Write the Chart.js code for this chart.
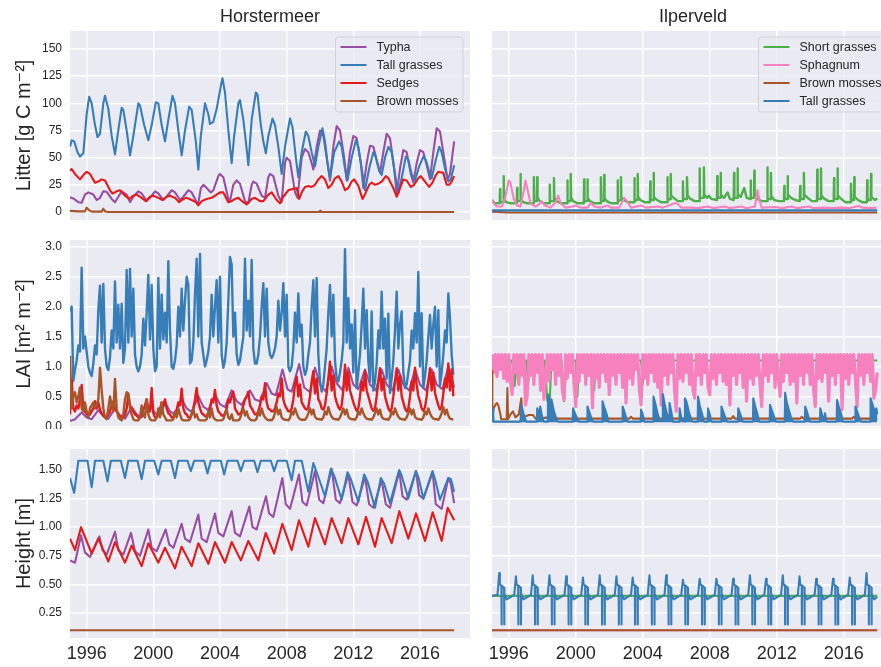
<!DOCTYPE html>
<html><head><meta charset="utf-8">
<script src="https://cdn.jsdelivr.net/npm/chart.js@4.4.1/dist/chart.umd.min.js"></script>
<style>
html,body{margin:0;padding:0;background:#fff;width:881px;height:667px;overflow:hidden;}
#wrap{position:relative;width:881px;height:667px;overflow:hidden;background:#fff;}
canvas{position:absolute;}
</style></head><body><div id="wrap">
<canvas id="c11" width="475" height="221" style="left:0;top:0"></canvas>
<canvas id="c12" width="418" height="221" style="left:480px;top:0"></canvas>
<canvas id="c21" width="475" height="199" style="left:0;top:230px"></canvas>
<canvas id="c22" width="418" height="199" style="left:480px;top:230px"></canvas>
<canvas id="c31" width="475" height="227" style="left:0;top:440px"></canvas>
<canvas id="c32" width="418" height="227" style="left:480px;top:440px"></canvas>
</div>
<script>
// ---------- labels / ticks ----------
const siteTitles = ['Horstermeer', 'Ilperveld'];
const rowTitles = ['Litter [g C m\u207B\u00B2]', 'LAI [m\u00B2 m\u207B\u00B2]', 'Height [m]'];
const legendHM = ['Typha', 'Tall grasses', 'Sedges', 'Brown mosses'];
const legendIP = ['Short grasses', 'Sphagnum', 'Brown mosses', 'Tall grasses'];
const xTicks = [1996, 2000, 2004, 2008, 2012, 2016];
const yTicksLitter = [0, 25, 50, 75, 100, 125, 150];
const yTicksLAI = [0.0, 0.5, 1.0, 1.5, 2.0, 2.5, 3.0];
const yTicksHeight = [0.25, 0.50, 0.75, 1.00, 1.25, 1.50];

// ---------- Litter, Horstermeer ([year, value]) ----------
const litterHM_typha = [[1995.0,13.5],[1995.2,12.5],[1995.5,9],[1995.7,8.5],[1995.9,16],[1996.1,18],[1996.4,16],[1996.6,11],[1996.8,13],[1997.0,19],[1997.2,18.5],[1997.5,12],[1997.7,9],[1997.9,14],[1998.1,19],[1998.4,16],[1998.6,9],[1998.8,14],[1999.1,19],[1999.3,17],[1999.6,10],[1999.8,13],[2000.1,19],[2000.3,17],[2000.6,11],[2000.8,14],[2001.1,20],[2001.3,18],[2001.6,11],[2001.8,14],[2002.1,20],[2002.3,18],[2002.6,9],[2002.7,8],[2002.85,22],[2003.0,25],[2003.2,22],[2003.45,18],[2003.6,20],[2003.9,33],[2004.0,35],[2004.2,32],[2004.5,12],[2004.6,10],[2004.8,25],[2005.0,29],[2005.2,26],[2005.5,10],[2005.7,8],[2005.9,25],[2006.0,28],[2006.2,26],[2006.5,15],[2006.7,13],[2006.9,32],[2007.0,35],[2007.2,33],[2007.5,15],[2007.7,9],[2007.9,45],[2008.0,50],[2008.2,47],[2008.5,18],[2008.65,13],[2008.9,50],[2009.1,58],[2009.3,55],[2009.5,45],[2009.6,39],[2009.8,60],[2010.0,75],[2010.2,70],[2010.45,45],[2010.6,29],[2010.8,60],[2011.0,79],[2011.2,75],[2011.45,50],[2011.6,29],[2011.8,55],[2012.0,70],[2012.2,68],[2012.45,45],[2012.6,22],[2012.8,45],[2013.0,61],[2013.2,60],[2013.45,45],[2013.6,36],[2013.8,55],[2014.0,72],[2014.2,68],[2014.45,40],[2014.6,16],[2014.8,40],[2015.0,57],[2015.2,55],[2015.45,35],[2015.6,27],[2015.8,45],[2016.0,57],[2016.2,55],[2016.45,40],[2016.6,30],[2016.8,55],[2017.0,77],[2017.2,74],[2017.45,50],[2017.65,30],[2017.8,35],[2018.05,65]];
const litterHM_tall = [[1995.0,60],[1995.1,66],[1995.25,65],[1995.45,55],[1995.6,51],[1995.8,54],[1996.0,90],[1996.15,106],[1996.3,100],[1996.5,80],[1996.65,69],[1996.8,72],[1997.0,100],[1997.1,107],[1997.3,95],[1997.5,70],[1997.7,53],[1997.85,70],[1998.1,96],[1998.2,94],[1998.4,75],[1998.6,52],[1998.8,70],[1999.1,100],[1999.2,98],[1999.45,80],[1999.7,66],[1999.9,80],[2000.15,101],[2000.3,100],[2000.5,80],[2000.7,65],[2000.9,85],[2001.15,107],[2001.3,100],[2001.5,75],[2001.7,52],[2001.9,75],[2002.15,97],[2002.3,94],[2002.55,65],[2002.7,39],[2002.85,70],[2003.1,100],[2003.3,90],[2003.4,81],[2003.6,83],[2003.8,95],[2004.1,120],[2004.15,123],[2004.3,110],[2004.5,75],[2004.7,45],[2004.85,70],[2005.1,100],[2005.2,103],[2005.4,85],[2005.55,65],[2005.7,43],[2005.9,85],[2006.15,110],[2006.25,108],[2006.45,80],[2006.6,65],[2006.75,54],[2006.9,70],[2007.15,86],[2007.3,80],[2007.5,60],[2007.7,35],[2007.9,60],[2008.2,86],[2008.35,78],[2008.55,50],[2008.7,32],[2008.9,55],[2009.15,74],[2009.3,70],[2009.5,55],[2009.7,42],[2009.9,60],[2010.15,77],[2010.3,65],[2010.45,45],[2010.6,31],[2010.85,55],[2011.15,65],[2011.3,60],[2011.5,40],[2011.65,29],[2011.9,50],[2012.15,66],[2012.3,60],[2012.5,40],[2012.7,20],[2012.95,40],[2013.2,55],[2013.35,50],[2013.55,38],[2013.7,34],[2013.9,50],[2014.1,60],[2014.3,55],[2014.5,35],[2014.7,17],[2014.95,35],[2015.15,51],[2015.3,48],[2015.5,35],[2015.7,29],[2015.95,42],[2016.2,51],[2016.35,48],[2016.55,37],[2016.7,31],[2016.95,48],[2017.15,60],[2017.3,55],[2017.5,40],[2017.7,28],[2017.85,30],[2018.05,43]];
const litterHM_sedges = [[1995.0,38],[1995.1,39.5],[1995.3,35],[1995.6,30],[1995.8,34],[1996.0,37],[1996.2,35],[1996.5,27],[1996.7,28],[1996.9,30],[1997.1,29],[1997.4,20],[1997.55,17],[1997.8,19],[1998.0,20],[1998.3,15],[1998.55,12],[1998.8,15],[1999.0,16],[1999.3,13],[1999.55,10],[1999.8,14],[2000.0,15],[2000.3,13],[2000.55,11],[2000.8,14],[2001.0,15],[2001.3,13],[2001.55,9],[2001.8,12],[2002.0,13],[2002.3,11],[2002.55,9],[2002.7,6],[2002.9,10],[2003.2,12],[2003.5,13],[2003.8,16],[2004.0,18],[2004.2,18],[2004.5,9],[2004.7,10],[2004.9,12],[2005.1,13],[2005.4,9],[2005.6,7],[2005.9,12],[2006.1,13],[2006.4,10],[2006.6,10],[2006.9,16],[2007.1,18],[2007.4,11],[2007.6,8],[2007.8,14],[2008.1,20],[2008.3,21],[2008.6,22],[2008.75,12],[2008.9,18],[2009.1,23],[2009.3,24],[2009.5,23],[2009.7,25],[2009.9,30],[2010.1,33],[2010.3,30],[2010.5,22],[2010.7,25],[2010.9,31],[2011.1,33],[2011.3,28],[2011.5,20],[2011.7,22],[2011.9,28],[2012.05,30],[2012.3,24],[2012.55,12],[2012.75,18],[2012.95,25],[2013.1,27],[2013.3,25],[2013.5,26],[2013.7,28],[2013.95,33],[2014.1,31],[2014.4,22],[2014.6,14],[2014.8,22],[2015.0,30],[2015.2,29],[2015.45,23],[2015.65,25],[2015.9,31],[2016.05,33],[2016.3,28],[2016.55,23],[2016.75,27],[2016.95,34],[2017.1,37],[2017.4,36],[2017.6,25],[2017.75,25],[2017.9,28],[2018.05,33]];
const litterHM_brown = [[1995.0,1],[1995.5,0.5],[1995.9,0.5],[1996.0,4],[1996.15,1.5],[1996.3,0.3],[1996.9,0.3],[1997.0,3],[1997.1,0.5],[1997.3,0],[2009.95,0],[2010.0,1],[2010.05,0],[2018.05,0]];

// ---------- Litter, Ilperveld ----------
const litterIP_short = [[1995.0,11],[1995.15,8],[1995.46,8],[1995.48,21],[1995.5,9],[1995.68,9],[1995.7,33],[1995.72,12],[1995.85,9],
[1996.1,8],[1996.48,8],[1996.5,22],[1996.52,10],[1996.68,10],[1996.7,35],[1996.72,13],[1996.85,9],
[1997.1,8],[1997.48,8],[1997.5,32],[1997.52,10],[1997.68,10],[1997.7,32],[1997.72,13],[1997.85,10],
[1998.1,8],[1998.43,8],[1998.45,25],[1998.47,10],[1998.68,10],[1998.7,31],[1998.72,13],[1998.85,10],
[1999.1,8],[1999.48,8],[1999.5,29],[1999.52,10],[1999.68,10],[1999.7,35],[1999.72,13],[1999.85,10],
[2000.1,8],[2000.48,8],[2000.5,30],[2000.52,10],[2000.68,10],[2000.7,30],[2000.72,13],[2000.85,10],
[2001.1,8],[2001.48,8],[2001.5,32],[2001.52,10],[2001.68,10],[2001.7,34],[2001.72,13],[2001.85,10],
[2002.1,8],[2002.48,8],[2002.5,29],[2002.52,10],[2002.68,11],[2002.7,32],[2002.72,14],[2002.85,11],
[2003.1,9],[2003.48,9],[2003.5,31],[2003.52,11],[2003.68,11],[2003.7,35],[2003.72,14],[2003.85,11],
[2004.1,9],[2004.43,9],[2004.45,28],[2004.47,11],[2004.63,11],[2004.65,36],[2004.67,14],[2004.85,11],
[2005.1,9],[2005.45,9],[2005.47,32],[2005.49,11],[2005.65,12],[2005.67,35],[2005.69,15],[2005.85,13],
[2006.1,10],[2006.38,10],[2006.4,28],[2006.42,12],[2006.62,12],[2006.64,32],[2006.68,15],[2006.85,12],
[2007.1,10],[2007.38,10],[2007.4,40],[2007.42,13],[2007.63,13],[2007.65,41],[2007.67,16],[2007.85,13],[2007.95,15],
[2008.1,12],[2008.43,11],[2008.45,33],[2008.47,13],[2008.63,13],[2008.65,36],[2008.67,16],[2008.85,13],
[2009.07,18],[2009.2,12],[2009.43,11],[2009.45,36],[2009.47,13],[2009.64,13],[2009.66,40],[2009.68,16],[2009.85,14],
[2010.06,22],[2010.2,13],[2010.42,12],[2010.44,29],[2010.46,13],[2010.64,13],[2010.66,38],[2010.68,16],[2010.85,12],
[2011.1,10],[2011.42,10],[2011.44,41],[2011.46,12],[2011.63,12],[2011.65,36],[2011.67,15],[2011.85,11],
[2012.1,10],[2012.43,10],[2012.45,24],[2012.47,12],[2012.63,12],[2012.65,33],[2012.67,16],[2012.85,13],
[2013.1,11],[2013.38,10],[2013.4,24],[2013.42,12],[2013.6,12],[2013.62,36],[2013.64,16],[2013.85,13],
[2014.1,10],[2014.4,10],[2014.42,39],[2014.44,12],[2014.62,12],[2014.64,40],[2014.66,15],[2014.85,12],
[2015.1,10],[2015.4,10],[2015.42,31],[2015.44,12],[2015.61,12],[2015.63,40],[2015.65,15],[2015.85,12],
[2016.1,9],[2016.41,9],[2016.43,26],[2016.45,11],[2016.61,11],[2016.63,32],[2016.65,14],[2016.85,11],
[2017.1,9],[2017.38,9],[2017.4,29],[2017.42,11],[2017.61,11],[2017.63,35],[2017.65,14],[2017.85,11],[2018.0,12.5]];
const litterIP_sphag = [[1995.0,11],[1995.15,7],[1995.3,5],[1995.6,5],[1995.8,14],[1996.0,29],[1996.1,27],[1996.3,12],[1996.5,6],[1996.7,5],[1996.9,20],[1997.0,29],[1997.1,22],[1997.3,8],[1997.6,5],[1997.8,7],[1997.95,10],[1998.15,6],[1998.5,4],[1998.8,9],[1998.95,15],[1999.1,8],[1999.4,4],[1999.8,5],[2000.0,6],[2000.3,4],[2000.7,4],[2000.9,8.5],[2001.1,5],[2001.5,4],[2001.9,6],[2002.1,4],[2002.6,4],[2002.9,13],[2003.05,10],[2003.3,4],[2003.9,6],[2004.2,4],[2004.9,5],[2005.2,4],[2005.9,8],[2006.05,8],[2006.3,4],[2006.9,4],[2007.3,3.5],[2007.9,5],[2008.2,3.5],[2008.9,5],[2009.2,3.5],[2009.9,5],[2010.2,3.5],[2010.7,5],[2010.85,20],[2010.95,12],[2011.1,4],[2011.9,4.5],[2012.3,3.5],[2012.9,5],[2013.2,3.5],[2013.9,5],[2014.2,3.5],[2014.9,4],[2015.3,3.5],[2015.9,4],[2016.3,3.5],[2016.9,5.5],[2017.1,4],[2017.6,3.5],[2017.95,4]];
const litterIP_brown = [[1995.0,0.3],[1996.0,-0.5],[2018.0,-0.5]];
const litterIP_tall = [[1995.0,1.5],[2018.0,1.5]];

// ---------- LAI, Horstermeer (values every 0.1 year from 1995.0) ----------
const laiGridStart = 1995.0;
const laiGridStep = 0.1;
const laiHM_tall = [
1.92,2.0,0.76,0.95,1.1,1.35,1.25,2.65,1.3,1.5,
1.25,1.0,0.9,0.84,1.05,1.35,1.2,1.95,2.35,1.4,
2.38,1.3,1.0,0.94,1.15,1.6,1.3,2.42,1.4,2.03,
1.3,2.05,1.06,1.3,2.61,1.4,2.63,1.5,2.3,1.2,
1.0,0.92,1.0,1.2,1.8,1.35,1.9,2.53,1.45,2.36,
1.3,0.92,1.0,2.48,1.3,2.2,1.45,1.9,1.4,2.76,
1.6,1.0,0.96,1.1,1.35,2.0,1.5,2.3,1.6,2.1,
2.5,2.36,1.05,1.1,1.4,2.2,2.8,1.5,2.88,1.4,
1.2,1.0,1.1,1.25,1.5,2.2,1.5,2.0,2.44,1.4,
2.5,1.2,0.98,1.1,1.4,2.1,2.83,2.7,1.5,1.9,
1.2,1.03,1.1,1.3,1.5,2.8,1.6,2.1,1.5,2.78,
1.3,1.05,1.05,1.2,1.5,2.0,2.39,1.5,2.3,1.4,
1.2,1.14,1.2,1.3,1.5,2.1,1.6,1.9,2.39,1.5,
2.2,1.0,0.92,1.0,1.3,1.9,1.4,2.22,1.5,1.7,
1.0,0.86,0.95,1.2,1.4,2.0,2.44,1.5,2.48,1.2,
0.75,0.58,0.7,1.0,1.3,1.9,2.36,1.5,2.2,1.1,
0.8,0.75,0.9,1.1,1.4,2.96,1.4,2.14,1.3,1.7,
0.9,1.94,0.64,0.9,1.2,1.7,2.3,1.3,1.94,1.1,
0.75,1.92,0.6,0.75,1.05,1.6,1.3,2.25,1.3,1.8,
0.8,1.88,0.56,0.8,1.1,1.6,2.25,1.3,1.7,1.92,
0.9,0.64,0.7,0.9,1.1,1.6,1.3,1.89,1.4,2.58,
1.0,1.89,0.64,0.85,1.1,1.5,1.86,1.3,1.7,2.0,
1.0,1.94,0.68,0.9,1.2,1.6,1.4,2.22,1.8,1.2,
0.86];
const laiHM_sedges = [
0.2,0.78,0.3,0.25,0.35,0.3,0.45,0.69,0.3,0.25,
0.2,0.18,0.2,0.25,0.3,0.42,0.3,0.4,0.28,0.22,
0.18,0.15,0.15,0.2,0.25,0.35,0.42,0.3,0.25,0.2,
0.18,0.15,0.15,0.2,0.3,0.53,0.35,0.3,0.25,0.2,
0.18,0.15,0.15,0.2,0.28,0.35,0.45,0.3,0.25,0.64,
0.22,0.15,0.15,0.2,0.28,0.4,0.35,0.45,0.3,0.22,
0.2,0.15,0.15,0.2,0.28,0.4,0.35,0.63,0.3,0.22,
0.2,0.15,0.15,0.2,0.3,0.45,0.64,0.4,0.3,0.22,
0.2,0.17,0.17,0.22,0.3,0.45,0.4,0.61,0.35,0.25,
0.22,0.18,0.18,0.22,0.3,0.45,0.4,0.5,0.58,0.3,
0.25,0.2,0.2,0.25,0.35,0.45,0.5,0.58,0.35,0.3,
0.25,0.2,0.2,0.25,0.35,0.5,0.45,0.72,0.4,0.3,
0.28,0.25,0.25,0.3,0.4,0.55,0.5,0.8,0.45,0.35,
0.3,0.25,0.25,0.3,0.45,0.7,0.83,0.5,0.7,0.4,
0.35,0.3,0.28,0.32,0.5,0.75,0.92,0.55,0.8,0.45,
0.4,0.3,0.28,0.35,0.55,0.8,1.08,0.6,0.85,0.5,
0.4,0.32,0.28,0.35,0.6,1.03,0.6,0.9,0.6,0.5,
0.4,0.32,0.26,0.3,0.5,0.75,0.6,0.92,0.6,0.5,
0.4,0.3,0.26,0.3,0.5,0.75,0.97,0.6,0.8,0.5,
0.4,0.3,0.25,0.3,0.5,0.75,0.97,0.6,0.85,0.5,
0.4,0.3,0.25,0.3,0.5,0.75,0.6,0.98,0.7,0.5,
0.42,0.3,0.26,0.32,0.5,0.75,0.97,0.6,0.9,0.55,
0.45,0.35,0.28,0.33,0.55,0.8,0.65,1.05,0.6,0.95,
0.5];
const laiHM_brown = [
1.18,0.3,0.5,0.57,0.4,0.5,0.65,0.3,0.25,0.4,
0.25,0.15,0.3,0.35,0.4,0.3,0.35,0.45,0.98,0.6,
0.3,0.15,0.12,0.3,0.5,0.35,0.25,0.79,0.3,0.15,
0.12,0.1,0.2,0.45,0.57,0.55,0.3,0.2,0.12,0.1,
0.1,0.1,0.15,0.35,0.2,0.15,0.45,0.2,0.12,0.1,
0.1,0.1,0.15,0.3,0.15,0.4,0.2,0.15,0.1,0.1,
0.1,0.1,0.12,0.25,0.15,0.3,0.2,0.12,0.1,0.1,
0.1,0.1,0.12,0.2,0.3,0.15,0.2,0.12,0.1,0.1,
0.1,0.1,0.12,0.25,0.15,0.3,0.15,0.12,0.1,0.1,
0.1,0.1,0.12,0.2,0.28,0.15,0.12,0.2,0.1,0.1,
0.1,0.1,0.13,0.22,0.3,0.18,0.25,0.15,0.12,0.1,
0.1,0.1,0.13,0.25,0.18,0.3,0.2,0.15,0.12,0.1,
0.11,0.1,0.14,0.22,0.32,0.2,0.28,0.15,0.12,0.11,
0.11,0.1,0.14,0.25,0.2,0.3,0.22,0.15,0.12,0.11,
0.11,0.11,0.15,0.22,0.3,0.2,0.28,0.16,0.13,0.12,
0.12,0.11,0.15,0.25,0.2,0.32,0.22,0.16,0.13,0.12,
0.12,0.11,0.15,0.22,0.3,0.2,0.28,0.16,0.13,0.12,
0.12,0.11,0.15,0.25,0.2,0.3,0.22,0.16,0.13,0.12,
0.12,0.11,0.15,0.22,0.3,0.2,0.28,0.16,0.13,0.12,
0.12,0.11,0.15,0.25,0.2,0.3,0.22,0.16,0.13,0.12,
0.12,0.11,0.15,0.22,0.3,0.2,0.28,0.16,0.13,0.12,
0.12,0.11,0.15,0.25,0.2,0.3,0.22,0.16,0.13,0.12,
0.12,0.11,0.15,0.22,0.32,0.2,0.28,0.18,0.13,0.12,
0.12];
const laiHM_typha = [[1995.0,0.09],[1995.3,0.12],[1995.7,0.23],[1996.0,0.15],[1996.3,0.12],[1996.7,0.27],[1997.0,0.17],[1997.3,0.13],[1997.7,0.3],[1998.0,0.18],[1998.3,0.13],[1998.7,0.32],[1999.0,0.2],[1999.3,0.15],[1999.8,0.34],[2000.1,0.22],[2000.4,0.17],[2000.7,0.4],[2001.0,0.25],[2001.3,0.2],[2001.7,0.46],[2002.0,0.3],[2002.3,0.24],[2002.7,0.5],[2003.0,0.33],[2003.3,0.27],[2003.7,0.53],[2004.0,0.37],[2004.3,0.32],[2004.7,0.6],[2005.0,0.42],[2005.3,0.36],[2005.8,0.6],[2006.1,0.45],[2006.4,0.42],[2006.8,0.72],[2007.1,0.55],[2007.35,0.52],[2007.75,0.95],[2008.05,0.62],[2008.3,0.58],[2008.75,1.04],[2009.05,0.65],[2009.4,0.57],[2009.7,0.98],[2010.0,0.7],[2010.35,0.58],[2010.7,1.0],[2011.0,0.72],[2011.35,0.6],[2011.7,0.98],[2012.0,0.7],[2012.3,0.62],[2012.7,0.95],[2013.0,0.7],[2013.35,0.6],[2013.7,0.95],[2014.0,0.7],[2014.35,0.6],[2014.7,0.95],[2015.0,0.7],[2015.35,0.6],[2015.7,0.95],[2016.0,0.7],[2016.35,0.6],[2016.7,0.95],[2017.0,0.7],[2017.35,0.62],[2017.7,1.0],[2018.05,0.65]];

// ---------- LAI, Ilperveld ----------
const laiIP_short = [[1995.0,1.1],[1995.15,0.98],[1995.25,1.1],[1996.2,1.1],[1996.35,0.67],[1996.5,1.1],[1996.6,0.92],[1996.75,1.1],[1997.05,1.1],[1997.15,0.7],[1997.3,1.1],[1998.15,1.1],[1998.3,0.42],[1998.45,0.45],[1998.55,1.1],[1999.15,1.1],[1999.3,0.42],[1999.45,1.1],[2000.0,1.1],[2000.1,0.5],[2000.2,1.1],[2001.0,1.1],[2001.1,0.6],[2001.2,1.1],[2003.9,1.1],[2004.0,0.7],[2004.1,1.1],[2009.1,1.1],[2009.2,0.6],[2009.3,1.1],[2013.1,1.1],[2013.2,0.65],[2013.3,1.1],[2018.0,1.1]];
const laiIP_sphag = [
1.2,0.9,1.2,0.83,1.2,0.95,1.2,0.8,1.2,0.75,
1.2,0.75,0.53,1.2,0.9,1.2,0.7,1.2,0.85,1.2,
0.36,0.5,1.2,0.85,1.2,0.7,1.2,0.9,1.2,0.6,
1.2,0.45,0.8,1.2,0.75,1.2,0.95,1.2,0.7,1.2,
0.85,1.2,0.6,0.44,1.2,0.8,1.2,0.9,1.2,0.7,
0.33,1.2,0.75,1.2,0.9,1.2,0.7,1.2,0.85,1.2,
0.31,1.2,0.8,1.2,0.65,1.2,0.9,1.2,0.75,1.2,
0.53,1.2,0.85,1.2,0.7,1.2,0.9,1.2,0.65,1.2,
0.39,1.2,0.8,1.2,0.7,1.2,0.95,1.2,0.6,0.36,
1.2,0.8,1.2,0.7,1.2,0.9,1.2,0.75,1.2,0.65,
1.2,0.36,1.2,0.85,1.2,0.7,1.2,0.9,1.2,0.6,
0.25,1.2,0.8,1.2,0.75,1.2,0.9,1.2,0.7,1.2,
0.6,0.47,1.2,0.85,1.2,0.7,1.2,0.9,1.2,0.65,
0.53,1.2,0.8,1.2,0.7,1.2,0.9,1.2,0.75,1.2,
0.7,1.2,0.36,1.2,0.85,1.2,0.7,1.2,0.9,1.2,
0.65,1.2,0.42,1.2,0.8,1.2,0.7,1.2,0.85,1.2,
0.7,0.33,1.2,0.85,1.2,0.75,1.2,0.9,1.2,0.65,
1.2,0.8,0.5,1.2,0.75,1.2,0.9,1.2,0.7,1.2,
0.75,1.2,0.39,1.2,0.85,1.2,0.7,1.2,0.9,1.2,
0.7,1.2,0.6,0.33,1.2,0.8,1.2,0.75,1.2,0.9,
1.2,0.42,1.2,0.85,1.2,0.7,1.2,0.9,1.2,0.28,
1.2,0.8,1.2,0.7,1.2,0.9,1.2,0.75,0.33,1.2,
0.85,1.2,0.7,1.2,0.9,1.2,0.75,1.2,0.47,0.6,
0.9];
const laiIP_brown = [[1995.0,0.92],[1995.02,0.1],[1995.1,0.3],[1995.2,0.36],[1995.3,0.39],[1995.4,0.33],[1995.5,0.2],[1995.55,0.12],[1995.88,0.12],[1995.92,0.64],[1995.96,0.12],[1996.1,0.2],[1996.25,0.25],[1996.4,0.15],[1996.6,0.2],[1996.75,0.47],[1996.8,0.17],[1997.0,0.17],[1997.2,0.19],[1997.45,0.19],[1997.6,0.13],[1998.5,0.15],[1998.6,0.13],[2003.2,0.13],[2003.3,0.16],[2003.4,0.13],[2004.8,0.13],[2004.9,0.16],[2005.0,0.13],[2009.3,0.13],[2009.4,0.17],[2009.5,0.13],[2013.4,0.13],[2013.5,0.16],[2013.6,0.13],[2016.5,0.13],[2016.6,0.16],[2016.7,0.13],[2018.0,0.13]];
const laiIP_tall = [[1995.0,0.3],[1995.05,0.28],[1995.1,0.08],
[1996.7,0.08],[1996.75,0.36],[1996.85,0.25],[1996.95,0.15],[1997.05,0.08],
[1997.68,0.08],[1997.7,0.3],[1997.8,0.2],[1997.88,0.33],[1998.0,0.15],[1998.1,0.08],
[1998.33,0.08],[1998.35,0.53],[1998.45,0.4],[1998.55,0.45],[1998.7,0.25],[1998.85,0.12],[1998.95,0.08],
[1999.82,0.08],[1999.84,0.3],[1999.95,0.22],[2000.1,0.12],[2000.2,0.08],
[2000.68,0.08],[2000.7,0.33],[2000.8,0.25],[2000.95,0.12],[2001.05,0.08],
[2001.58,0.08],[2001.6,0.42],[2001.7,0.32],[2001.85,0.2],[2001.95,0.08],
[2002.78,0.08],[2002.8,0.33],[2002.9,0.25],[2003.05,0.1],[2003.1,0.08],
[2003.88,0.08],[2003.9,0.28],[2004.0,0.2],[2004.1,0.08],
[2004.62,0.08],[2004.64,0.5],[2004.75,0.38],[2004.9,0.2],[2005.0,0.1],
[2005.18,0.1],[2005.2,0.54],[2005.3,0.38],[2005.45,0.2],[2005.58,0.15],[2005.6,0.39],[2005.7,0.25],[2005.8,0.08],
[2006.18,0.08],[2006.2,0.3],[2006.3,0.15],[2006.5,0.08],[2006.52,0.47],[2006.62,0.4],[2006.75,0.25],[2006.9,0.1],[2007.0,0.08],
[2007.28,0.08],[2007.3,0.5],[2007.4,0.35],[2007.55,0.2],[2007.65,0.08],
[2007.88,0.08],[2007.9,0.3],[2008.0,0.2],[2008.1,0.08],
[2008.68,0.08],[2008.7,0.33],[2008.8,0.25],[2008.95,0.12],[2009.05,0.08],
[2009.68,0.08],[2009.7,0.3],[2009.8,0.22],[2009.95,0.1],[2010.0,0.08],
[2010.58,0.08],[2010.6,0.47],[2010.7,0.35],[2010.85,0.2],[2010.95,0.08],
[2011.58,0.08],[2011.6,0.36],[2011.7,0.27],[2011.85,0.15],[2011.95,0.08],
[2012.48,0.08],[2012.5,0.56],[2012.6,0.4],[2012.75,0.25],[2012.9,0.1],[2013.0,0.08],
[2013.68,0.08],[2013.7,0.33],[2013.8,0.25],[2013.95,0.1],[2014.0,0.08],
[2014.58,0.08],[2014.6,0.3],[2014.7,0.2],[2014.85,0.1],[2014.88,0.22],[2014.95,0.1],[2015.0,0.08],
[2015.58,0.08],[2015.6,0.44],[2015.7,0.33],[2015.85,0.2],[2015.95,0.08],
[2016.68,0.08],[2016.7,0.33],[2016.8,0.25],[2016.95,0.12],[2017.05,0.08],
[2017.58,0.08],[2017.6,0.47],[2017.7,0.38],[2017.85,0.25],[2017.95,0.3],[2018.0,0.2]];

// ---------- Height, Horstermeer ----------
const heightHM_typha = [[1995.0,0.71],[1995.3,0.69],[1995.66,0.93],[1995.9,0.78],[1996.2,0.74],[1996.76,0.92],[1996.95,0.8],[1997.2,0.76],[1997.7,0.96],[1997.9,0.8],[1998.2,0.76],[1998.66,0.95],[1998.9,0.79],[1999.2,0.75],[1999.7,0.98],[1999.9,0.82],[2000.2,0.79],[2000.74,0.98],[2000.95,0.85],[2001.2,0.82],[2001.7,1.03],[2001.9,0.9],[2002.2,0.87],[2002.7,1.11],[2002.9,0.9],[2003.2,0.87],[2003.7,1.12],[2003.9,0.95],[2004.2,0.92],[2004.7,1.14],[2004.9,0.95],[2005.2,0.92],[2005.76,1.18],[2005.95,1.0],[2006.2,0.98],[2006.76,1.27],[2006.95,1.12],[2007.2,1.09],[2007.74,1.43],[2007.95,1.2],[2008.2,1.16],[2008.74,1.46],[2008.95,1.22],[2009.2,1.19],[2009.7,1.49],[2009.95,1.24],[2010.2,1.21],[2010.7,1.51],[2010.95,1.24],[2011.2,1.21],[2011.7,1.46],[2011.95,1.22],[2012.2,1.19],[2012.7,1.44],[2012.95,1.2],[2013.2,1.17],[2013.7,1.41],[2013.95,1.2],[2014.2,1.17],[2014.76,1.49],[2014.95,1.27],[2015.2,1.24],[2015.76,1.49],[2015.95,1.28],[2016.2,1.25],[2016.76,1.48],[2016.95,1.2],[2017.3,1.16],[2017.7,1.43],[2017.85,1.38],[2018.05,1.21]];
const heightHM_tall = [[1995.0,1.43],[1995.25,1.30],[1995.5,1.58],[1996.05,1.58],[1996.3,1.35],[1996.5,1.58],[1997.0,1.58],[1997.25,1.40],[1997.45,1.58],[1998.05,1.58],[1998.3,1.43],[1998.5,1.58],[1999.05,1.58],[1999.3,1.42],[1999.5,1.58],[2000.05,1.58],[2000.3,1.46],[2000.5,1.58],[2001.05,1.58],[2001.3,1.43],[2001.5,1.58],[2002.05,1.58],[2002.25,1.49],[2002.45,1.58],[2003.05,1.58],[2003.25,1.47],[2003.45,1.58],[2004.05,1.58],[2004.25,1.46],[2004.45,1.58],[2005.05,1.58],[2005.25,1.49],[2005.45,1.58],[2006.05,1.58],[2006.25,1.48],[2006.45,1.58],[2007.05,1.58],[2007.25,1.49],[2007.45,1.58],[2008.0,1.58],[2008.3,1.41],[2008.5,1.58],[2008.9,1.58],[2009.3,1.31],[2009.6,1.56],[2009.8,1.48],[2010.3,1.27],[2010.65,1.51],[2010.85,1.45],[2011.3,1.24],[2011.65,1.48],[2011.85,1.42],[2012.3,1.22],[2012.65,1.46],[2012.85,1.4],[2013.3,1.17],[2013.65,1.43],[2013.85,1.38],[2014.2,1.21],[2014.75,1.5],[2014.9,1.45],[2015.3,1.25],[2015.75,1.49],[2015.9,1.44],[2016.2,1.25],[2016.75,1.49],[2016.9,1.42],[2017.2,1.24],[2017.7,1.43],[2017.85,1.42],[2018.05,1.31]];
const heightHM_sedges = [[1995.0,0.9],[1995.3,0.8],[1995.66,1.0],[1996.3,0.77],[1996.7,0.9],[1997.3,0.7],[1997.7,0.87],[1998.3,0.69],[1998.7,0.84],[1999.3,0.66],[1999.7,0.86],[2000.3,0.69],[2000.7,0.82],[2001.3,0.64],[2001.7,0.83],[2002.3,0.66],[2002.7,0.86],[2003.3,0.68],[2003.7,0.87],[2004.3,0.69],[2004.7,0.87],[2005.25,0.71],[2005.7,0.88],[2006.3,0.71],[2006.74,0.95],[2007.25,0.77],[2007.74,1.03],[2008.3,0.8],[2008.74,1.06],[2009.3,0.83],[2009.7,1.08],[2010.3,0.85],[2010.7,1.08],[2011.3,0.86],[2011.7,1.08],[2012.3,0.85],[2012.76,1.09],[2013.3,0.83],[2013.7,1.08],[2014.3,0.86],[2014.76,1.14],[2015.3,0.9],[2015.76,1.12],[2016.3,0.88],[2016.76,1.13],[2017.3,0.88],[2017.66,1.17],[2018.05,1.06]];
const heightHM_brown = [[1995.0,0.1],[2018.05,0.1]];

// ---------- Height, Ilperveld ----------
const heightIP_short = [[1995.0,0.4],[2018.0,0.4]];
const heightIP_sphag = [[1995.0,0.1],[2018.0,0.1]];
const heightIP_brown = [[1995.0,0.1],[2018.0,0.1]];
const heightIP_tall = [[1995.0,0.40],[1995.33,0.41],[1995.43,0.60],[1995.47,0.50],[1995.56,0.49],[1995.57,0.15],[1995.58,0.49],[1995.72,0.47],[1995.73,0.15],[1995.74,0.42],[1995.88,0.37],
[1996.33,0.41],[1996.43,0.57],[1996.47,0.50],[1996.56,0.49],[1996.57,0.15],[1996.58,0.49],[1996.72,0.47],[1996.73,0.15],[1996.74,0.42],[1996.88,0.37],
[1997.33,0.41],[1997.43,0.58],[1997.47,0.50],[1997.56,0.49],[1997.57,0.15],[1997.58,0.49],[1997.72,0.47],[1997.73,0.15],[1997.74,0.42],[1997.88,0.37],
[1998.33,0.41],[1998.43,0.58],[1998.47,0.50],[1998.56,0.49],[1998.57,0.15],[1998.58,0.49],[1998.72,0.47],[1998.73,0.15],[1998.74,0.42],[1998.88,0.37],
[1999.33,0.41],[1999.43,0.57],[1999.47,0.50],[1999.56,0.49],[1999.57,0.15],[1999.58,0.49],[1999.72,0.47],[1999.73,0.15],[1999.74,0.42],[1999.88,0.37],
[2000.33,0.41],[2000.43,0.56],[2000.47,0.50],[2000.56,0.49],[2000.57,0.15],[2000.58,0.49],[2000.72,0.47],[2000.73,0.15],[2000.74,0.42],[2000.88,0.37],
[2001.33,0.41],[2001.43,0.58],[2001.47,0.50],[2001.56,0.49],[2001.57,0.15],[2001.58,0.49],[2001.72,0.47],[2001.73,0.15],[2001.74,0.42],[2001.88,0.37],
[2002.33,0.41],[2002.43,0.57],[2002.47,0.50],[2002.56,0.49],[2002.57,0.15],[2002.58,0.49],[2002.72,0.47],[2002.73,0.15],[2002.74,0.42],[2002.88,0.37],
[2003.30,0.41],[2003.40,0.56],[2003.44,0.50],[2003.53,0.49],[2003.54,0.15],[2003.55,0.49],[2003.69,0.47],[2003.70,0.15],[2003.71,0.42],[2003.85,0.37],
[2004.30,0.41],[2004.40,0.58],[2004.44,0.50],[2004.53,0.49],[2004.54,0.15],[2004.55,0.49],[2004.69,0.47],[2004.70,0.15],[2004.71,0.42],[2004.85,0.37],
[2005.30,0.41],[2005.40,0.58],[2005.44,0.50],[2005.53,0.49],[2005.54,0.15],[2005.55,0.49],[2005.69,0.47],[2005.70,0.15],[2005.71,0.42],[2005.85,0.37],
[2006.30,0.41],[2006.40,0.54],[2006.44,0.50],[2006.53,0.49],[2006.54,0.15],[2006.55,0.49],[2006.69,0.47],[2006.70,0.15],[2006.71,0.42],[2006.85,0.37],
[2007.30,0.41],[2007.40,0.55],[2007.44,0.50],[2007.53,0.49],[2007.54,0.15],[2007.55,0.49],[2007.69,0.47],[2007.70,0.15],[2007.71,0.42],[2007.85,0.37],
[2008.30,0.41],[2008.40,0.55],[2008.44,0.50],[2008.53,0.49],[2008.54,0.15],[2008.55,0.49],[2008.69,0.47],[2008.70,0.15],[2008.71,0.42],[2008.85,0.37],
[2009.30,0.41],[2009.40,0.55],[2009.44,0.50],[2009.53,0.49],[2009.54,0.15],[2009.55,0.49],[2009.69,0.47],[2009.70,0.15],[2009.71,0.42],[2009.85,0.37],
[2010.30,0.41],[2010.40,0.58],[2010.44,0.50],[2010.53,0.49],[2010.54,0.15],[2010.55,0.49],[2010.69,0.47],[2010.70,0.15],[2010.71,0.42],[2010.85,0.37],
[2011.26,0.41],[2011.36,0.55],[2011.40,0.50],[2011.49,0.49],[2011.50,0.15],[2011.51,0.49],[2011.65,0.47],[2011.66,0.15],[2011.67,0.42],[2011.81,0.37],
[2012.26,0.41],[2012.36,0.58],[2012.40,0.50],[2012.49,0.49],[2012.50,0.15],[2012.51,0.49],[2012.65,0.47],[2012.66,0.15],[2012.67,0.42],[2012.81,0.37],
[2013.26,0.41],[2013.36,0.57],[2013.40,0.50],[2013.49,0.49],[2013.50,0.15],[2013.51,0.49],[2013.65,0.47],[2013.66,0.15],[2013.67,0.42],[2013.81,0.37],
[2014.26,0.41],[2014.36,0.55],[2014.40,0.50],[2014.49,0.49],[2014.50,0.15],[2014.51,0.49],[2014.65,0.47],[2014.66,0.15],[2014.67,0.42],[2014.81,0.37],
[2015.26,0.41],[2015.36,0.55],[2015.40,0.50],[2015.49,0.49],[2015.50,0.15],[2015.51,0.49],[2015.65,0.47],[2015.66,0.15],[2015.67,0.42],[2015.81,0.37],
[2016.26,0.41],[2016.36,0.56],[2016.40,0.50],[2016.49,0.49],[2016.50,0.15],[2016.51,0.49],[2016.65,0.47],[2016.66,0.15],[2016.67,0.42],[2016.81,0.37],
[2017.26,0.41],[2017.36,0.60],[2017.40,0.50],[2017.49,0.49],[2017.50,0.15],[2017.51,0.49],[2017.65,0.47],[2017.66,0.15],[2017.67,0.42],[2017.81,0.37],[2018.0,0.39]];

// ---------- styling ----------
const FONT = "'Liberation Sans', Arial, 'DejaVu Sans', sans-serif";
const INK = '#262626';
const C = {typha:'#984ea3', tall:'#377eb8', sedges:'#e41a1c', brown:'#a65628', short:'#4daf4a', sphag:'#f781bf'};
Chart.defaults.font.family = FONT;
Chart.defaults.color = INK;

const fromPairs = arr => arr.map(p => ({x: p[0], y: p[1]}));
const fromGrid = vals => vals.map((v, i) => ({x: +(laiGridStart + i * laiGridStep).toFixed(3), y: v}));

function ds(label, data, color, extra) {
  return Object.assign({label, data, borderColor: color, backgroundColor: color, borderWidth: 2.1,
    pointRadius: 0, tension: 0, fill: false, borderJoinStyle: 'round'}, extra || {});
}
function ordered(list) { // later series drawn on top (matplotlib order)
  list.forEach((d, i) => { d.order = list.length - i; });
  return list;
}

const bgPlugin = {id: 'bgArea', beforeDraw(chart) {
  const a = chart.chartArea, c = chart.ctx;
  c.save(); c.fillStyle = '#eaeaf2'; c.fillRect(a.left, a.top, a.right - a.left, a.bottom - a.top); c.restore();
}};
const titlePlugin = {id: 'panelTitle', afterDraw(chart, args, o) {
  if (!o || !o.text) return;
  const a = chart.chartArea, c = chart.ctx;
  c.save(); c.fillStyle = INK; c.font = '18px ' + FONT; c.textAlign = 'center'; c.textBaseline = 'middle';
  c.fillText(o.text, (a.left + a.right) / 2, o.y); c.restore();
}};
const legendPlugin = {id: 'boxLegend', afterDraw(chart, args, o) {
  if (!o || !o.items) return;
  const a = chart.chartArea, c = chart.ctx;
  const w = 127.5, h = 75, x = a.right - o.inset - w, y = a.top + 6, r = 3;
  c.save();
  c.beginPath();
  c.moveTo(x + r, y); c.lineTo(x + w - r, y); c.arcTo(x + w, y, x + w, y + r, r);
  c.lineTo(x + w, y + h - r); c.arcTo(x + w, y + h, x + w - r, y + h, r);
  c.lineTo(x + r, y + h); c.arcTo(x, y + h, x, y + h - r, r);
  c.lineTo(x, y + r); c.arcTo(x, y, x + r, y, r); c.closePath();
  c.fillStyle = 'rgba(234,234,242,0.8)'; c.fill();
  c.strokeStyle = 'rgba(204,204,204,0.8)'; c.lineWidth = 1; c.stroke();
  c.font = '12.5px ' + FONT; c.textBaseline = 'middle'; c.textAlign = 'left';
  o.items.forEach((it, i) => {
    const yy = y + 10 + i * 18;
    c.strokeStyle = it.color; c.lineWidth = 2; c.beginPath(); c.moveTo(x + 5, yy); c.lineTo(x + 31, yy); c.stroke();
    c.fillStyle = INK; c.fillText(it.label, x + 41, yy + 0.5);
  });
  c.restore();
}};

function makeChart(id, p) {
  const gridOpt = {color: '#ffffff', lineWidth: 1.4, drawTicks: false};
  new Chart(document.getElementById(id), {
    type: 'line',
    data: {datasets: ordered(p.datasets)},
    options: {
      responsive: false, animation: false, devicePixelRatio: 1,
      layout: {padding: {top: p.padTop, right: p.padRight, left: 0, bottom: 0}},
      plugins: {legend: {display: false}, tooltip: {enabled: false},
        panelTitle: {text: p.title || null, y: 17}, boxLegend: {items: p.legend || null, inset: p.legendInset}},
      scales: {
        x: {type: 'linear', min: 1995, max: 2019, border: {display: false}, grid: gridOpt,
          afterBuildTicks: s => { s.ticks = xTicks.map(v => ({value: v})); },
          afterFit: s => { s.height = p.xHeight; s.paddingLeft = 0; s.paddingRight = 0; s.paddingTop = 0; s.paddingBottom = 0; },
          ticks: {display: !!p.xLabels, color: INK, font: {family: FONT, size: 18}, padding: 5,
            maxRotation: 0, minRotation: 0, autoSkip: false, callback: v => String(v)}},
        y: {type: 'linear', min: p.yMin, max: p.yMax, border: {display: false}, grid: gridOpt,
          afterBuildTicks: s => { s.ticks = p.yTicks.map(v => ({value: v})); },
          afterFit: s => { s.width = p.yWidth; s.paddingLeft = 0; s.paddingRight = 0; s.paddingTop = 0; s.paddingBottom = 0; },
          ticks: {display: !!p.yTitle, color: INK, font: {family: FONT, size: 12}, padding: 8, callback: v => p.yFmt(v)},
          title: {display: !!p.yTitle, text: p.yTitle || '', color: INK, font: {family: FONT, size: 20}, padding: {top: 12, bottom: 0}}}
      }
    },
    plugins: [bgPlugin, titlePlugin, legendPlugin]
  });
}

const fmt0 = v => String(Math.round(v));
const fmt1 = v => v.toFixed(1);
const fmt2 = v => v.toFixed(2);
const rows = [
  {padTop: 31, xHeight: 1, yMin: -7.4, yMax: 166.6, yTicks: yTicksLitter, yFmt: fmt0},
  {padTop: 10, xHeight: 1, yMin: -0.027, yMax: 3.112, yTicks: yTicksLAI, yFmt: fmt1},
  {padTop: 9, xHeight: 29, yMin: 0.032, yMax: 1.683, yTicks: yTicksHeight, yFmt: fmt2, xLabels: true}
];
const leftCol = {padRight: 5, yWidth: 70};
const rightCol = {padRight: 4, yWidth: 12};

// Row 1: Litter
makeChart('c11', Object.assign({}, rows[0], leftCol, {yTitle: rowTitles[0], title: siteTitles[0], legendInset: 7,
  legend: [{label: legendHM[0], color: C.typha}, {label: legendHM[1], color: C.tall}, {label: legendHM[2], color: C.sedges}, {label: legendHM[3], color: C.brown}],
  datasets: [ds(legendHM[0], fromPairs(litterHM_typha), C.typha), ds(legendHM[1], fromPairs(litterHM_tall), C.tall),
    ds(legendHM[2], fromPairs(litterHM_sedges), C.sedges), ds(legendHM[3], fromPairs(litterHM_brown), C.brown)]}));
makeChart('c12', Object.assign({}, rows[0], rightCol, {title: siteTitles[1], legendInset: 8,
  legend: [{label: legendIP[0], color: C.short}, {label: legendIP[1], color: C.sphag}, {label: legendIP[2], color: C.brown}, {label: legendIP[3], color: C.tall}],
  datasets: [ds(legendIP[0], fromPairs(litterIP_short), C.short, {borderWidth: 2.4}), ds(legendIP[1], fromPairs(litterIP_sphag), C.sphag),
    ds(legendIP[2], fromPairs(litterIP_brown), C.brown), ds(legendIP[3], fromPairs(litterIP_tall), C.tall)]}));

// Row 2: LAI
makeChart('c21', Object.assign({}, rows[1], leftCol, {yTitle: rowTitles[1],
  datasets: [ds(legendHM[0], fromPairs(laiHM_typha), C.typha), ds(legendHM[1], fromGrid(laiHM_tall), C.tall, {borderWidth: 2.4}),
    ds(legendHM[2], fromGrid(laiHM_sedges), C.sedges, {borderWidth: 2.4}), ds(legendHM[3], fromGrid(laiHM_brown), C.brown, {borderWidth: 2.4})]}));
makeChart('c22', Object.assign({}, rows[1], rightCol, {
  datasets: [ds(legendIP[0], fromPairs(laiIP_short), C.short), ds(legendIP[1], fromGrid(laiIP_sphag), C.sphag, {borderWidth: 3.2}),
    ds(legendIP[2], fromPairs(laiIP_brown), C.brown), ds(legendIP[3], fromPairs(laiIP_tall), C.tall, {fill: {value: 0.07}})]}));

// Row 3: Height
makeChart('c31', Object.assign({}, rows[2], leftCol, {yTitle: rowTitles[2],
  datasets: [ds(legendHM[0], fromPairs(heightHM_typha), C.typha), ds(legendHM[1], fromPairs(heightHM_tall), C.tall),
    ds(legendHM[2], fromPairs(heightHM_sedges), C.sedges), ds(legendHM[3], fromPairs(heightHM_brown), C.brown)]}));
makeChart('c32', Object.assign({}, rows[2], rightCol, {
  datasets: [ds(legendIP[0], fromPairs(heightIP_short), C.short), ds(legendIP[1], fromPairs(heightIP_sphag), C.sphag),
    ds(legendIP[2], fromPairs(heightIP_brown), C.brown), ds(legendIP[3], fromPairs(heightIP_tall), C.tall)]}));
</script>
</body></html>
